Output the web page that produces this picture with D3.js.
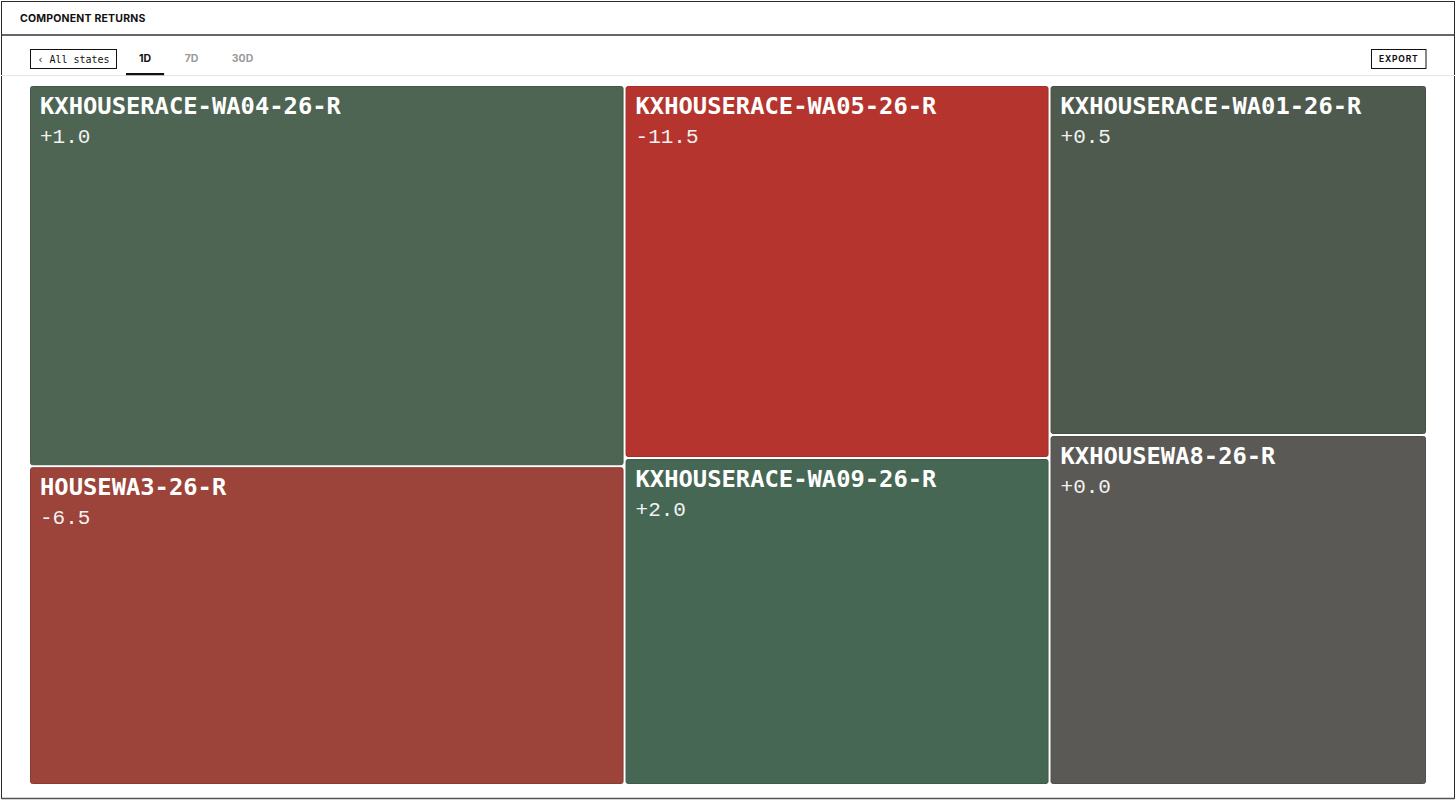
<!DOCTYPE html>
<html>
<head>
<meta charset="utf-8">
<script src="https://cdn.jsdelivr.net/npm/d3@7"></script>
<style>
  html, body { margin: 0; padding: 0; background: #fff; }
  svg { display: block; }
</style>
</head>
<body>
<svg id="chart" width="1456" height="800"></svg>
<script>
// ---- data ----
const tickers = ["KXHOUSERACE-WA04-26-R", "HOUSEWA3-26-R", "KXHOUSERACE-WA05-26-R", "KXHOUSERACE-WA09-26-R", "KXHOUSERACE-WA01-26-R", "KXHOUSEWA8-26-R"];
const weights = [232, 194, 162, 142, 135, 135];
const returns = [1.0, -6.5, -11.5, 2.0, 0.5, 0.0];
const tabs = ["1D", "7D", "30D"];
const activeTab = "1D";

const W = 1456, H = 800;
const svg = d3.select("#chart");

// outer frame
svg.append("rect").attr("x", 1.5).attr("y", 1.5).attr("width", W - 3).attr("height", H - 3)
  .attr("fill", "#fff").attr("stroke", "#2b2b2b").attr("stroke-width", 1);
svg.append("line").attr("x1", 1).attr("x2", W - 1).attr("y1", H - 1.5).attr("y2", H - 1.5)
  .attr("stroke", "#555").attr("stroke-width", 1.5);

// header
svg.append("text").attr("x", 20).attr("y", 21.5)
  .attr("font-family", "Inter, 'Noto Sans', sans-serif").attr("font-weight", 700)
  .attr("font-size", 10.5).attr("letter-spacing", 0.2).attr("fill", "#111")
  .text("COMPONENT RETURNS");
svg.append("line").attr("x1", 1).attr("x2", W - 1).attr("y1", 35).attr("y2", 35)
  .attr("stroke", "#333").attr("stroke-width", 1.6);

// tab bar
svg.append("line").attr("x1", 1).attr("x2", W - 1).attr("y1", 75.5).attr("y2", 75.5)
  .attr("stroke", "#e6e6e6").attr("stroke-width", 1);

svg.append("rect").attr("x", 30.5).attr("y", 49.5).attr("width", 86).attr("height", 19)
  .attr("fill", "#fff").attr("stroke", "#111").attr("stroke-width", 1);
svg.append("text").attr("x", 73.5).attr("y", 62.5).attr("text-anchor", "middle")
  .attr("font-family", "'DejaVu Sans Mono', monospace").attr("font-size", 10).attr("fill", "#111")
  .text("‹ All states");

// tabs laid out by their text widths
const tabG = svg.append("g");
const tabText = tabG.selectAll("text.tab").data(tabs).join("text").attr("class", "tab")
  .attr("y", 62)
  .attr("font-family", "Inter, 'Noto Sans', sans-serif").attr("font-weight", 700)
  .attr("font-size", 10.5)
  .attr("fill", d => d === activeTab ? "#111" : "#9a9a9a")
  .text(d => d);
let cx = 139;
const tabPos = {};
tabText.each(function(d) {
  const w = this.getComputedTextLength();
  tabPos[d] = { x: cx, w: w };
  d3.select(this).attr("x", cx);
  cx += w + 33.5;
});
const at = tabPos[activeTab];
svg.append("rect").attr("x", at.x - 13).attr("y", 73).attr("width", at.w + 26).attr("height", 2.2)
  .attr("fill", "#111");

svg.append("rect").attr("x", 1371.5).attr("y", 49.5).attr("width", 54.5).attr("height", 19)
  .attr("fill", "#fff").attr("stroke", "#111").attr("stroke-width", 1);
svg.append("text").attr("x", 1398.8).attr("y", 62.2).attr("text-anchor", "middle")
  .attr("font-family", "Inter, 'Noto Sans', sans-serif").attr("font-weight", 700)
  .attr("font-size", 8.5).attr("letter-spacing", 0.8).attr("fill", "#111")
  .text("EXPORT");

// ---- treemap ----
const data = tickers.map((t, i) => ({ name: t, value: weights[i], ret: returns[i] }));
const root = d3.hierarchy({ children: data })
  .sum(d => d.value || 0)
  .sort((a, b) => b.value - a.value);

const tx = 30, ty = 86, tw = 1396, th = 698;
d3.treemap().size([tw, th]).paddingInner(2).round(false)(root);

const color = d3.scaleLinear()
  .domain([-11.5, -6.5, 0, 0.5, 1, 2])
  .range(["#b5352e", "#9c433a", "#5b5955", "#4f5a4e", "#4e6553", "#476755"])
  .clamp(true);

const fmt = d3.formatLocale({ decimal: ".", thousands: ",", grouping: [3], currency: ["$", ""], minus: "-" }).format("+.1f");

const g = svg.append("g").attr("transform", `translate(${tx},${ty})`);
const leaf = g.selectAll("g.leaf").data(root.leaves()).join("g").attr("class", "leaf")
  .attr("transform", d => `translate(${d.x0},${d.y0})`);

leaf.append("rect")
  .attr("x", 0.5).attr("y", 0.5)
  .attr("width", d => Math.max(0, d.x1 - d.x0 - 1))
  .attr("height", d => Math.max(0, d.y1 - d.y0 - 1))
  .attr("rx", 2).attr("ry", 2)
  .attr("fill", d => color(d.data.ret))
  .attr("stroke", d => d3.color(color(d.data.ret)).darker(0.35))
  .attr("stroke-width", 1);

leaf.append("text")
  .attr("x", 10).attr("y", 28)
  .attr("font-family", "'DejaVu Sans Mono', monospace").attr("font-weight", 700)
  .attr("font-size", 23.8).attr("fill", "#fff")
  .text(d => d.data.name);

leaf.append("text")
  .attr("x", 10).attr("y", 57)
  .attr("font-family", "'Liberation Mono', monospace")
  .attr("font-size", 21).attr("fill", "#f2f2f2")
  .text(d => fmt(d.data.ret));
</script>
</body>
</html>
